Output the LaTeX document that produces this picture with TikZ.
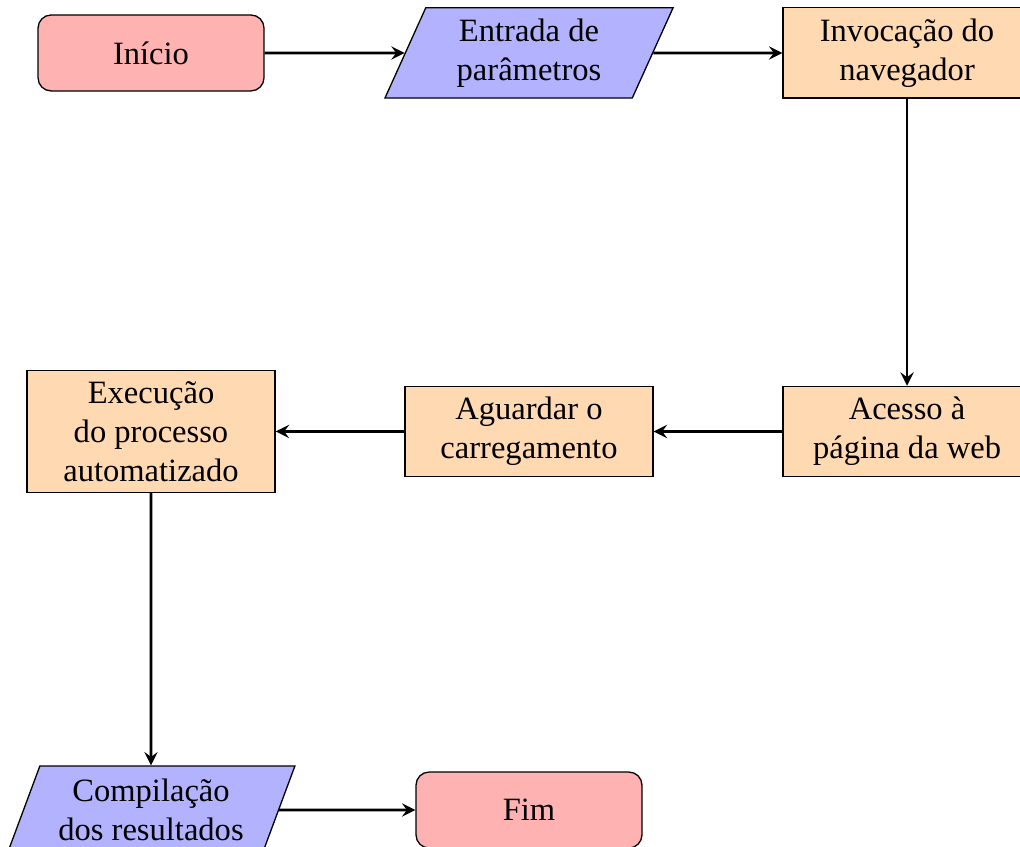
\documentclass[tikz,border=0pt]{standalone}
\usepackage{fontspec}
\setmainfont{Liberation Serif}
\usetikzlibrary{shapes.geometric,arrows}
\begin{document}
\begin{tikzpicture}[
        startstop/.style={rectangle, rounded corners, minimum width=2.44cm, minimum height=0.82cm, align=center, draw=black, fill=red!30},
        io/.style={trapezium, trapezium left angle=70, trapezium right angle=110, trapezium stretches=true, minimum width=3.12cm, minimum height=0.95cm, align=center, draw=black, fill=blue!30},
        process/.style={rectangle, minimum width=2.68cm, minimum height=0.94cm, align=center, draw=black, fill=orange!30},
        arrow/.style={thick,->,>=stealth}]
                    \useasboundingbox (0,0) rectangle (11.016,-9.137);
                    \node[startstop] (inicio) at (1.631,-0.572) {Início};
                    \node[io] (entrada) at (5.713,-0.572) {Entrada de\\parâmetros};
                    \node[process] (invocacao) at (9.796,-0.572) {Invocação do\\navegador};
                    \node[process] (acesso) at (9.796,-4.660) {Acesso à\\página da web};
                    \node[process] (aguardar) at (5.713,-4.660) {Aguardar o\\carregamento};
                    \node[process] (execucao) at (1.631,-4.660) {Execução\\do processo\\automatizado};
                    \node[io] (compilacao) at (1.631,-8.748) {Compilação\\dos resultados};
                    \node[startstop] (fim) at (5.713,-8.748) {Fim};
                    \draw[arrow] (inicio) -- (entrada);
                    \draw[arrow] (entrada) -- (invocacao);
                    \draw[arrow] (invocacao) -- (acesso);
                    \draw[arrow] (acesso) -- (aguardar);
                    \draw[arrow] (aguardar) -- (execucao);
                    \draw[arrow] (execucao) -- (compilacao);
                    \draw[arrow] (compilacao) -- (fim);
                \end{tikzpicture}
\end{document}
